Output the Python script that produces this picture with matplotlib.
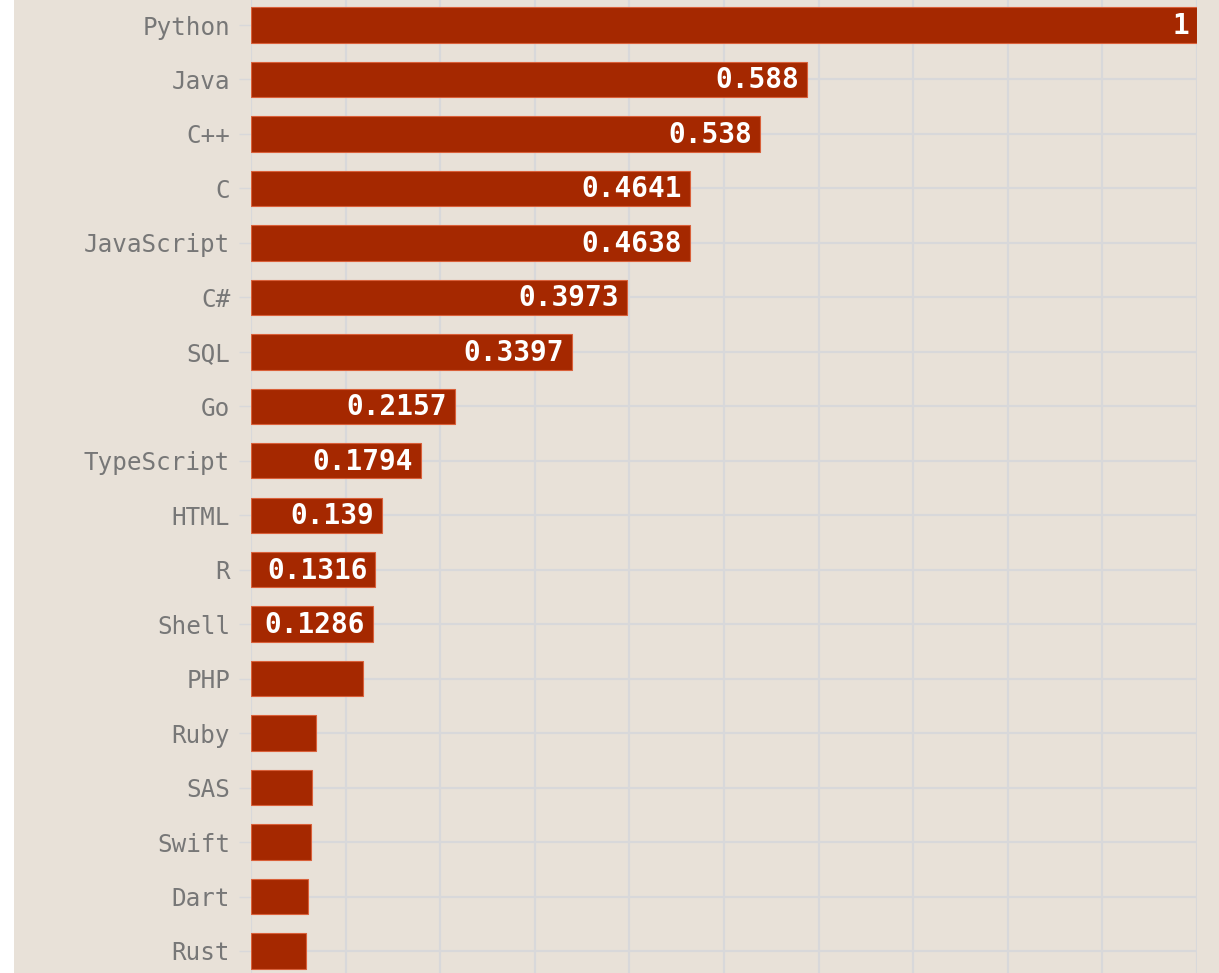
import matplotlib
matplotlib.use("Agg")
import matplotlib.pyplot as plt
from matplotlib.patches import Rectangle
from matplotlib import transforms

languages = ["Python", "Java", "C++", "C", "JavaScript", "C#", "SQL", "Go",
             "TypeScript", "HTML", "R", "Shell", "PHP", "Ruby", "SAS", "Swift",
             "Dart", "Rust"]
values = [1.0, 0.588, 0.538, 0.4641, 0.4638, 0.3973, 0.3397, 0.2157,
          0.1794, 0.139, 0.1316, 0.1286, 0.118, 0.0687, 0.0645, 0.0634,
          0.060, 0.058]
label_texts = ["1", "0.588", "0.538", "0.4641", "0.4638", "0.3973", "0.3397",
               "0.2157", "0.1794", "0.139", "0.1316", "0.1286",
               "", "", "", "", "", ""]

BG = "#e8e1d8"
BAR = "#a52800"
EDGE = "#d9603a"
GRID = "#d8d8da"
TXT = "#777777"

W, H = 1219, 973
fig = plt.figure(figsize=(W / 100, H / 100), dpi=100, facecolor=BG)
ax = fig.add_axes([251 / W, 0, (1197 - 251) / W, 1])
ax.set_facecolor(BG)

ypos = list(range(len(languages)))
ax.barh(ypos, values, height=0.65, color=BAR, edgecolor=EDGE, linewidth=0.8, zorder=3)

step = 54.47
ax.set_ylim(17 + (973 - 951) / step, -25 / step)
ax.set_xlim(0, 1.0)
ax.set_xticks([i / 10 for i in range(11)])
ax.set_xticklabels([])
ax.tick_params(axis="x", length=0)
ax.set_yticks(ypos)
ax.set_yticklabels(languages, fontfamily="DejaVu Sans Mono", fontsize=17.5, color=TXT)
ax.tick_params(axis="y", length=9, width=1, color=GRID, pad=6)
ax.grid(True, color=GRID, linewidth=1.6, zorder=0)
for s in ax.spines.values():
    s.set_visible(False)

offset = transforms.offset_copy(ax.transData, fig=fig, x=-8, y=2, units="dots")
for y, v, t in zip(ypos, values, label_texts):
    if t:
        ax.text(v, y, t, transform=offset, ha="right", va="center_baseline",
                fontfamily="DejaVu Sans Mono", fontweight="bold", fontsize=20,
                color="white", zorder=4)

fig.patches.append(Rectangle((0, 0), 14 / W, 1, transform=fig.transFigure,
                             facecolor="white", edgecolor="none", zorder=10))

fig.savefig("out.png", dpi=100, facecolor=BG)
